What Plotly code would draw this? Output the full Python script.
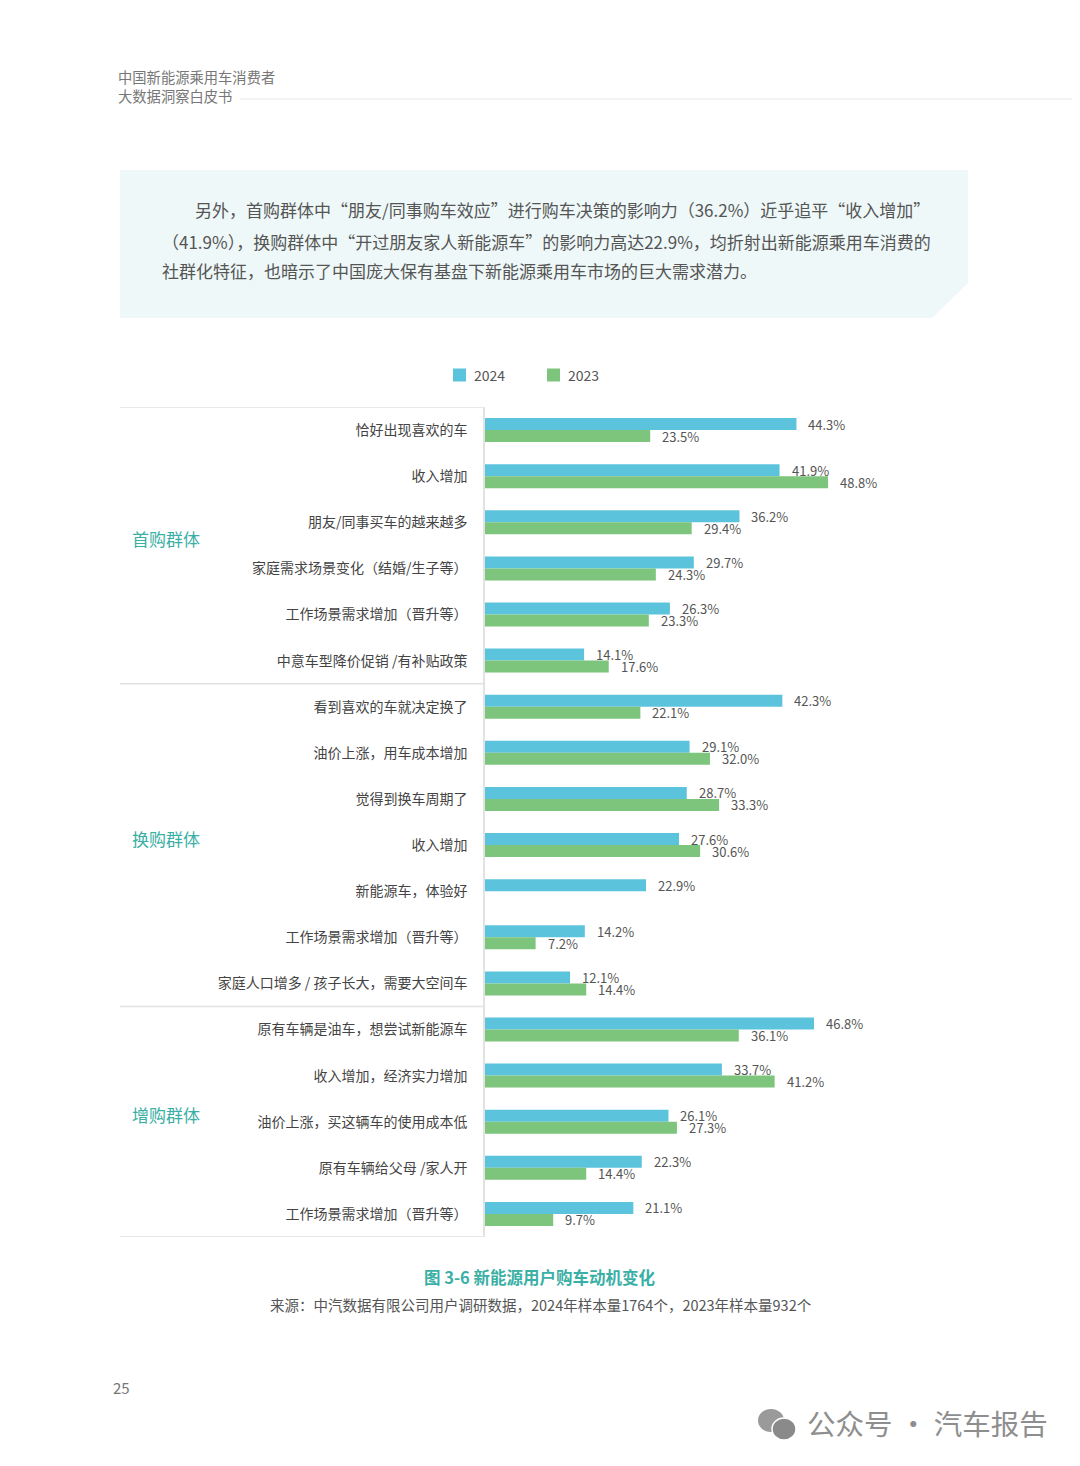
import plotly.graph_objects as go

# page offset of the default html body margin
OFF = 8
W, H = 1080 - OFF, 1466 - OFF

categories = [
    "恰好出现喜欢的车", "收入增加", "朋友/同事买车的越来越多", "家庭需求场景变化（结婚/生子等）",
    "工作场景需求增加（晋升等）", "中意车型降价促销 /有补贴政策",
    "看到喜欢的车就决定换了", "油价上涨，用车成本增加", "觉得到换车周期了", "收入增加",
    "新能源车，体验好", "工作场景需求增加（晋升等）", "家庭人口增多 / 孩子长大，需要大空间车",
    "原有车辆是油车，想尝试新能源车", "收入增加，经济实力增加", "油价上涨，买这辆车的使用成本低",
    "原有车辆给父母 /家人开", "工作场景需求增加（晋升等）",
]
values_2024 = [44.3, 41.9, 36.2, 29.7, 26.3, 14.1,
               42.3, 29.1, 28.7, 27.6, 22.9, 14.2, 12.1,
               46.8, 33.7, 26.1, 22.3, 21.1]
values_2023 = [23.5, 48.8, 29.4, 24.3, 23.3, 17.6,
               22.1, 32.0, 33.3, 30.6, None, 7.2, 14.4,
               36.1, 41.2, 27.3, 14.4, 9.7]
groups = ["首购群体", "换购群体", "增购群体"]
group_sizes = [6, 7, 5]
series_names = ["2024", "2023"]

BLUE = "#5CC3DD"
GREEN = "#7DC47D"
TEAL = "#3AAFA5"
FONT = "Noto Sans CJK SC"

idx = list(range(len(categories)))

def py(p):  # page pixel y -> paper
    return 1 - (p - OFF) / H

def px(p):
    return (p - OFF) / W

fig = go.Figure()
fig.add_trace(go.Bar(y=idx, x=values_2024, orientation="h", name=series_names[0],
                     marker=dict(color=BLUE, line=dict(width=0)), hoverinfo="x"))
fig.add_trace(go.Bar(y=idx, x=values_2023, orientation="h", name=series_names[1],
                     marker=dict(color=GREEN, line=dict(width=0)), hoverinfo="x"))

x0p, x1p = 485, 835
scale = 7.03
top_p, bot_p = 407, 1237

fig.update_layout(
    width=W, height=H, margin=dict(l=0, r=0, t=0, b=0),
    paper_bgcolor="white", plot_bgcolor="rgba(0,0,0,0)",
    barmode="group", bargap=0.48, bargroupgap=0,
    showlegend=False,
    font=dict(family=FONT, color="#444"),
    xaxis=dict(domain=[px(x0p), px(x1p)], range=[0, (x1p - x0p) / scale],
               visible=False, fixedrange=True),
    yaxis=dict(domain=[py(bot_p), py(top_p)], range=[17.5, -0.5],
               tickmode="array", tickvals=idx, ticktext=categories,
               tickfont=dict(size=14, color="#444", family=FONT),
               ticks="", ticklabelstandoff=13,
               showline=True, linecolor="#E2E2E2", linewidth=1.5,
               showgrid=False, zeroline=False, fixedrange=True),
)

ann = []
# value labels
for i, v in enumerate(values_2024):
    if v is not None:
        ann.append(dict(x=v, y=i - 0.13, xref="x", yref="y", text=f"{v:.1f}%",
                        showarrow=False, xanchor="left", yanchor="middle", xshift=10,
                        font=dict(size=13, color="#555", family=FONT)))
for i, v in enumerate(values_2023):
    if v is not None:
        ann.append(dict(x=v, y=i + 0.13, xref="x", yref="y", text=f"{v:.1f}%",
                        showarrow=False, xanchor="left", yanchor="middle", xshift=10,
                        font=dict(size=13, color="#555", family=FONT)))

shapes = []
# group separators and group labels
start = 0
bounds = [-0.5]
for g, n in zip(groups, group_sizes):
    center = start + (n - 1) / 2
    ann.append(dict(x=px(130), y=center, xref="paper", yref="y", text=g, showarrow=False,
                    xanchor="left", yanchor="middle", yshift=7,
                    font=dict(size=17, color=TEAL, family=FONT)))
    start += n
    bounds.append(start - 0.5)
for b in bounds:
    shapes.append(dict(type="line", xref="paper", yref="y", x0=px(120), x1=px(483),
                       y0=b, y1=b, line=dict(color="#E2E2E2", width=1.5)))

# legend
for name, col, lx in [(series_names[0], BLUE, 453), (series_names[1], GREEN, 547)]:
    shapes.append(dict(type="rect", xref="paper", yref="paper", x0=px(lx), x1=px(lx + 13),
                       y0=py(381.5), y1=py(368.5), fillcolor=col, line=dict(width=0)))
    ann.append(dict(x=px(lx + 19), y=py(375), xref="paper", yref="paper", text=name,
                    showarrow=False, xanchor="left", yanchor="middle",
                    font=dict(size=14, color="#555", family=FONT)))

# header
ann.append(dict(x=px(116), y=py(77), xref="paper", yref="paper", text="中国新能源乘用车消费者",
                showarrow=False, xanchor="left", yanchor="middle",
                font=dict(size=14.3, color="#777", family=FONT)))
ann.append(dict(x=px(116), y=py(95), xref="paper", yref="paper", text="大数据洞察白皮书",
                showarrow=False, xanchor="left", yanchor="middle",
                font=dict(size=14.3, color="#777", family=FONT)))
shapes.append(dict(type="line", xref="paper", yref="paper", x0=px(240), x1=1,
                   y0=py(99), y1=py(99), line=dict(color="#E8E8E8", width=1.2)))

# text box with cut corner
path = (f"M {px(120)},{py(170)} L {px(968)},{py(170)} L {px(968)},{py(283)} "
        f"L {px(932)},{py(318)} L {px(120)},{py(318)} Z")
shapes.append(dict(type="path", xref="paper", yref="paper", path=path,
                   fillcolor="#EEF8F8", line=dict(width=0), layer="below"))
para = [
    (193, 210, "另外，首购群体中“朋友/同事购车效应”进行购车决策的影响力（36.2%）近乎追平“收入增加”"),
    (160, 241, "（41.9%），换购群体中“开过朋友家人新能源车”的影响力高达22.9%，均折射出新能源乘用车消费的"),
    (160, 271, "社群化特征，也暗示了中国庞大保有基盘下新能源乘用车市场的巨大需求潜力。"),
]
for xx, yy, t in para:
    ann.append(dict(x=px(xx), y=py(yy), xref="paper", yref="paper", text=t, showarrow=False,
                    xanchor="left", yanchor="middle",
                    font=dict(size=17, color="#555", family=FONT)))

# caption
ann.append(dict(x=px(540), y=py(1277), xref="paper", yref="paper",
                text="<b>图 3-6 新能源用户购车动机变化</b>", showarrow=False,
                xanchor="center", yanchor="middle",
                font=dict(size=16.5, color=TEAL, family=FONT)))
ann.append(dict(x=px(541), y=py(1304), xref="paper", yref="paper",
                text="来源：中汽数据有限公司用户调研数据，2024年样本量1764个，2023年样本量932个",
                showarrow=False, xanchor="center", yanchor="middle",
                font=dict(size=14.5, color="#555", family=FONT)))

# page number
ann.append(dict(x=px(111), y=py(1387), xref="paper", yref="paper", text="25", showarrow=False,
                xanchor="left", yanchor="middle", font=dict(size=15, color="#777", family=FONT)))

# watermark
shapes.append(dict(type="circle", xref="paper", yref="paper", x0=px(758), x1=px(784),
                   y0=py(1432), y1=py(1409), fillcolor="#9A9A9A", line=dict(width=0)))
shapes.append(dict(type="circle", xref="paper", yref="paper", x0=px(772), x1=px(796),
                   y0=py(1440), y1=py(1418), fillcolor="#8A8A8A", line=dict(color="white", width=1.5)))
ann.append(dict(x=px(805), y=py(1422), xref="paper", yref="paper", text="公众号 · 汽车报告",
                showarrow=False, xanchor="left", yanchor="middle",
                font=dict(size=28.5, color="#8E8E8E", family=FONT)))

fig.update_layout(annotations=ann, shapes=shapes)
fig.write_html("out.html")
